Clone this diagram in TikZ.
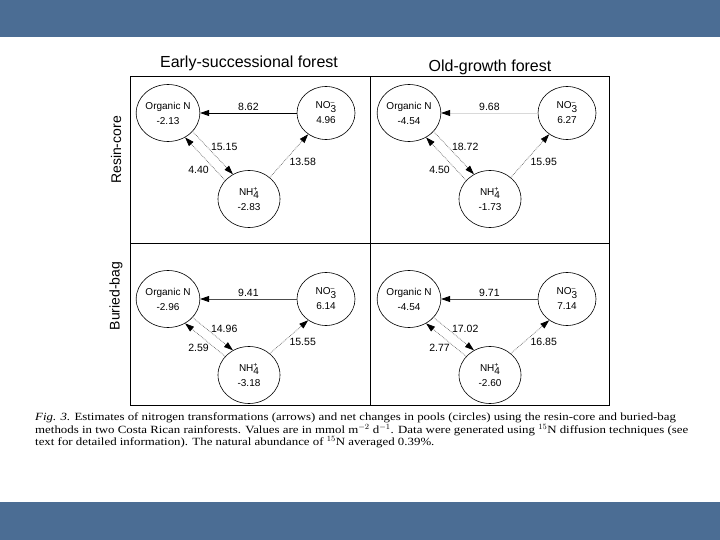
\documentclass[tikz,border=0pt]{standalone}
\usepackage{fontspec}
\setmainfont{Liberation Serif}
\setsansfont{Liberation Sans}
\newfontfamily\capfont[FakeStretch=1.17]{Liberation Serif}
\usetikzlibrary{arrows.meta,shapes.geometric}

\definecolor{slideblue}{RGB}{75,109,148}
% ion label: base, lowered index, small charge above
\newcommand\ionlab[3]{#1\rlap{\raisebox{0.85ex}{\scriptsize #3}}\raisebox{-0.6ex}{#2}}

\begin{document}
\begin{tikzpicture}[x=1pt, y=-1pt,
  every node/.style={font=\sffamily},
  pool/.style={ellipse, draw, line width=0.6pt, minimum width=62pt, minimum height=57pt,
    inner sep=0pt, align=center, font=\sffamily\fontsize{10}{15}\selectfont},
  flow/.style={-{Triangle[length=9pt,width=6pt,color=black]}, line width=0.7pt},
  dotflow/.style={flow, densely dotted, draw=black!60},
  val/.style={font=\sffamily\fontsize{10.5}{12}\selectfont, inner sep=1pt},
  title/.style={font=\sffamily\fontsize{16}{18}\selectfont},
  rowlab/.style={font=\sffamily\fontsize{14}{16}\selectfont, rotate=90}]
  \useasboundingbox (0,0) rectangle (720,540);

  % Slide bands
  \fill[slideblue] (0,0) rectangle (720,37);
  \fill[slideblue] (0,502) rectangle (720,540);

  % Frame
  \draw[line width=1pt] (130,77) rectangle (609,405);
  \draw[line width=0.8pt] (370,77) -- (370,405);
  \draw[line width=0.8pt] (130,243) -- (609,243);

  % Headings
  \node[title] (early) at (249,63) {Early-successional forest};
  \node[title] (old) at (490,67) {Old-growth forest};
  \node[rowlab] (resin) at (116,150) {Resin-core};
  \node[rowlab] (buried) at (116,296) {Buried-bag};

  % Panels: shift x / shift y / NH4 y / pools / fluxes / colour of NO3 line
  \foreach \px/\py/\nhy/\vorg/\vno/\vnh/\va/\vb/\vc/\vd/\vcol in {
      0/0/199/-2.13/4.96/-2.83/8.62/15.15/4.40/13.58/black,
      241/0/199/-4.54/6.27/-1.73/9.68/18.72/4.50/15.95/black!15,
      0/186/375/-2.96/6.14/-3.18/9.41/14.96/2.59/15.55/black!70,
      241/186/375/-4.54/7.14/-2.60/9.71/17.02/2.77/16.85/black!70} {
    \node[pool] (org) at (168+\px,113+\py) {Organic N\\\vorg};
    \node[pool, minimum width=58pt, minimum height=53pt] (no3) at (326+\px,113+\py)
      {\ionlab{NO}{3}{--}\\\vno};
    \node[pool] (nh) at (249+\px,\nhy) {\ionlab{NH}{4}{+}\\\vnh};

    \draw[flow, draw=\vcol] (no3) -- (org) node[val, midway, above=1pt] {\va};
    \draw[dotflow] (org.-37) -- (nh.123) node[val, pos=0.35, anchor=west, xshift=3pt] {\vb};
    \draw[dotflow] (nh.142) -- (org.-55) node[val, pos=0.25, anchor=east, xshift=-5pt] {\vc};
    \draw[dotflow] (nh.46) -- (no3.-130) node[val, pos=0.35, anchor=west, xshift=5pt] {\vd};
  }

  % Caption
  \node[anchor=north west, inner sep=0pt, align=left,
    font=\capfont\fontsize{11}{11}\selectfont] (caption) at (35,413)
    {\textit{Fig. 3.} Estimates of nitrogen transformations (arrows) and net changes in pools (circles) using the resin-core and buried-bag\\
     methods in two Costa Rican rainforests. Values are in mmol m$^{-2}$ d$^{-1}$. Data were generated using $^{15}$N diffusion techniques (see\\
     text for detailed information). The natural abundance of $^{15}$N averaged 0.39\%.};
\end{tikzpicture}
\end{document}
